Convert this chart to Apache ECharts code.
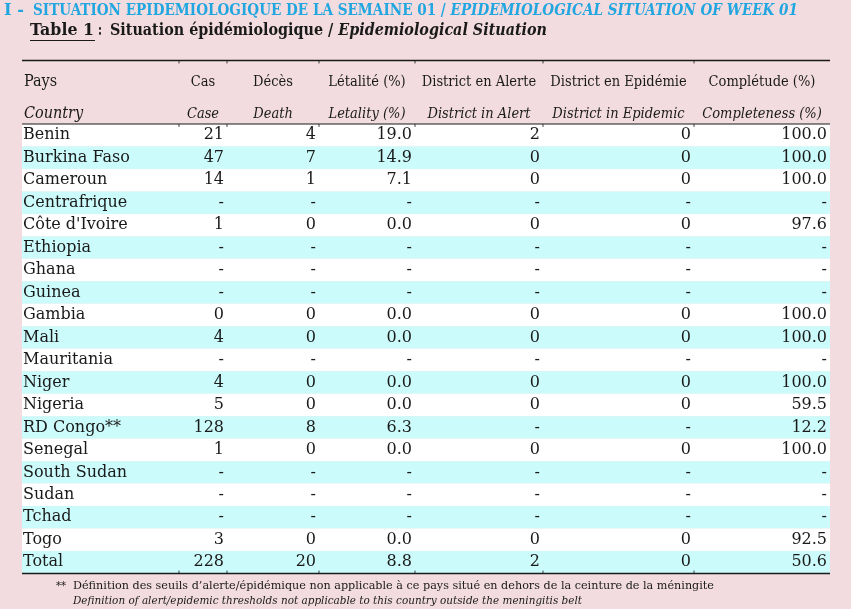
<!DOCTYPE html>
<html lang="fr">
<head>
<meta charset="UTF-8">
<title>Situation épidémiologique semaine 01</title>
<script src="https://cdn.jsdelivr.net/npm/echarts@6/dist/echarts.min.js"></script>
<style>html,body{margin:0;padding:0;background:#f2dcdf;}</style>
</head>
<body>
<div id="main" style="width:851px;height:609px;"></div>
<script>
var pays = ['Benin', 'Burkina Faso', 'Cameroun', 'Centrafrique', "Côte d'Ivoire", 'Ethiopia', 'Ghana',
    'Guinea', 'Gambia', 'Mali', 'Mauritania', 'Niger', 'Nigeria', 'RD Congo**', 'Senegal',
    'South Sudan', 'Sudan', 'Tchad', 'Togo', 'Total'];
var cas = [21, 47, 14, null, 1, null, null, null, 0, 4, null, 4, 5, 128, 1, null, null, null, 3, 228];
var deces = [4, 7, 1, null, 0, null, null, null, 0, 0, null, 0, 0, 8, 0, null, null, null, 0, 20];
var letalite = [19.0, 14.9, 7.1, null, 0.0, null, null, null, 0.0, 0.0, null, 0.0, 0.0, 6.3, 0.0, null, null, null, 0.0, 8.8];
var alerte = [2, 0, 0, null, 0, null, null, null, 0, 0, null, 0, 0, null, 0, null, null, null, 0, 2];
var epidemie = [0, 0, 0, null, 0, null, null, null, 0, 0, null, 0, 0, null, 0, null, null, null, 0, 0];
var completude = [100.0, 100.0, 100.0, null, 97.6, null, null, null, 100.0, 100.0, null, 100.0, 59.5, 12.2, 100.0, null, null, null, 92.5, 50.6];

var enTetesFr = ['Pays', 'Cas', 'Décès', 'Létalité (%)', 'District en Alerte', 'District en Epidémie', 'Complétude (%)'];
var enTetesEn = ['Country', 'Case', 'Death', 'Letality (%)', 'District in Alert', 'District in Epidemic', 'Completeness (%)'];

// column edges (table units, 0 = left border)
var bords = [0, 157, 205, 297, 393, 521, 672, 808];
var X0 = 22, TOP = 124, BOT = 573.5;
var CYAN = '#ccfbfb', INK = '#1a1a1a';
var SERIF = '"DejaVu Serif"', COND = '"DejaVu Serif Condensed"';

// measure text to squeeze it to the reference width
var ctx = document.createElement('canvas').getContext('2d');
function largeur(txt, font) { ctx.font = font; return ctx.measureText(txt).width; }

// a line of text made of segments, fitted between x1 and x2
function ligne(segments, x1, x2, y, fill) {
    var total = 0;
    segments.forEach(function (s) { s.w = largeur(s.t, s.f); total += s.w; });
    var k = (x2 - x1) / total, x = x1, out = [];
    segments.forEach(function (s) {
        out.push({type: 'text', x: x, y: y, scaleX: k, silent: true,
            style: {text: s.t, font: s.f, fill: fill, textVerticalAlign: 'middle'}});
        x += s.w * k;
    });
    return out;
}

function fmt(v, dec) {
    if (v === null) return '-';
    return dec ? v.toFixed(1) : String(v);
}

var graphics = [];
// titles
graphics = graphics.concat(ligne([{t: 'I -', f: 'bold 17px ' + COND}], 4, 24, 11, '#22a6e0'));
graphics = graphics.concat(ligne([
    {t: 'SITUATION EPIDEMIOLOGIQUE DE LA SEMAINE 01 / ', f: 'bold 17px ' + COND},
    {t: 'EPIDEMIOLOGICAL SITUATION OF WEEK 01', f: 'italic bold 17px ' + COND}], 33, 798, 11, '#22a6e0'));
graphics = graphics.concat(ligne([{t: 'Table 1', f: 'bold 17px ' + COND}], 30, 94, 31, INK));
graphics = graphics.concat(ligne([{t: ':', f: 'bold 17px ' + COND}], 98, 102, 31, INK));
graphics.push({type: 'line', shape: {x1: 30, y1: 40.5, x2: 95, y2: 40.5}, style: {stroke: INK, lineWidth: 1.2}});
graphics = graphics.concat(ligne([
    {t: 'Situation épidémiologique / ', f: 'bold 17px ' + COND},
    {t: 'Epidemiological Situation', f: 'italic bold 17px ' + COND}], 110, 547, 31, INK));

// column headers
enTetesFr.forEach(function (h, c) {
    var cx = X0 + (bords[c] + bords[c + 1]) / 2;
    graphics.push({type: 'text', x: c ? cx : X0 + 2, y: 82, silent: true,
        style: {text: h, font: (c ? '14.5px ' : '16px ') + COND, fill: INK,
            textAlign: c ? 'center' : 'left', textVerticalAlign: 'middle'}});
    graphics.push({type: 'text', x: c ? cx : X0 + 2, y: 114, silent: true,
        style: {text: enTetesEn[c], font: (c ? 'italic 14.5px ' : 'italic 16px ') + COND, fill: INK,
            textAlign: c ? 'center' : 'left', textVerticalAlign: 'middle'}});
});

// rules and small column ticks
graphics.push({type: 'line', shape: {x1: X0, y1: 60.5, x2: X0 + 808, y2: 60.5}, style: {stroke: INK, lineWidth: 1.5}});
graphics.push({type: 'line', shape: {x1: X0, y1: TOP, x2: X0 + 808, y2: TOP}, style: {stroke: INK, lineWidth: 1.2}, z: 10});
graphics.push({type: 'line', shape: {x1: X0, y1: BOT, x2: X0 + 808, y2: BOT}, style: {stroke: INK, lineWidth: 1.5}, z: 10});
bords.slice(1, 7).forEach(function (b) {
    graphics.push({type: 'line', shape: {x1: X0 + b, y1: 60.5, x2: X0 + b, y2: 63.5}, style: {stroke: INK, lineWidth: 0.8}});
    graphics.push({type: 'line', shape: {x1: X0 + b, y1: TOP, x2: X0 + b, y2: TOP + 3}, style: {stroke: INK, lineWidth: 0.8}, z: 10});
    graphics.push({type: 'line', shape: {x1: X0 + b, y1: BOT - 3, x2: X0 + b, y2: BOT}, style: {stroke: INK, lineWidth: 0.8}, z: 10});
});

// footnote
graphics = graphics.concat(ligne([{t: '**', f: '11.5px ' + COND}], 56, 66, 586, INK));
graphics = graphics.concat(ligne([{t: 'Définition des seuils d\u2019alerte/épidémique non applicable à ce pays situé en dehors de la ceinture de la méningite', f: '11.5px ' + COND}], 73, 714, 586, INK));
graphics = graphics.concat(ligne([{t: 'Definition of alert/epidemic thresholds not applicable to this country outside the meningitis belt', f: 'italic 11.5px ' + COND}], 73, 582, 601, INK));

var myChart = echarts.init(document.getElementById('main'));

function renderRow(params, api) {
    var i = api.value(0);
    var g = api.coord([0, i]);
    var d = api.coord([808, i]);
    var h = api.size([0, 1])[1];
    var y = g[1];
    var cells = [fmt(cas[i]), fmt(deces[i]), fmt(letalite[i], 1), fmt(alerte[i]), fmt(epidemie[i]), fmt(completude[i], 1)];
    var children = [{type: 'rect', shape: {x: g[0], y: y - h / 2, width: d[0] - g[0], height: h},
        style: {fill: i % 2 ? CYAN : '#ffffff'}}];
    children.push({type: 'text', x: g[0] + 1, y: y,
        style: {text: pays[i], font: '16px ' + SERIF, fill: INK, textVerticalAlign: 'middle'}});
    cells.forEach(function (t, c) {
        var xr = api.coord([bords[c + 2], i])[0] - 3;
        children.push({type: 'text', x: xr, y: y,
            style: {text: t, font: '16px ' + SERIF, fill: INK, textAlign: 'right', textVerticalAlign: 'middle'}});
    });
    return {type: 'group', children: children};
}

myChart.setOption({
    backgroundColor: '#f2dcdf',
    animation: false,
    grid: {left: X0, top: TOP, width: 808, height: BOT - TOP},
    xAxis: {type: 'value', min: 0, max: 808, show: false},
    yAxis: {type: 'category', data: pays, inverse: true, show: false},
    series: [{
        type: 'custom',
        renderItem: renderRow,
        data: pays.map(function (p, i) { return [i]; }),
        silent: true
    }],
    graphic: graphics
});
</script>
</body>
</html>
